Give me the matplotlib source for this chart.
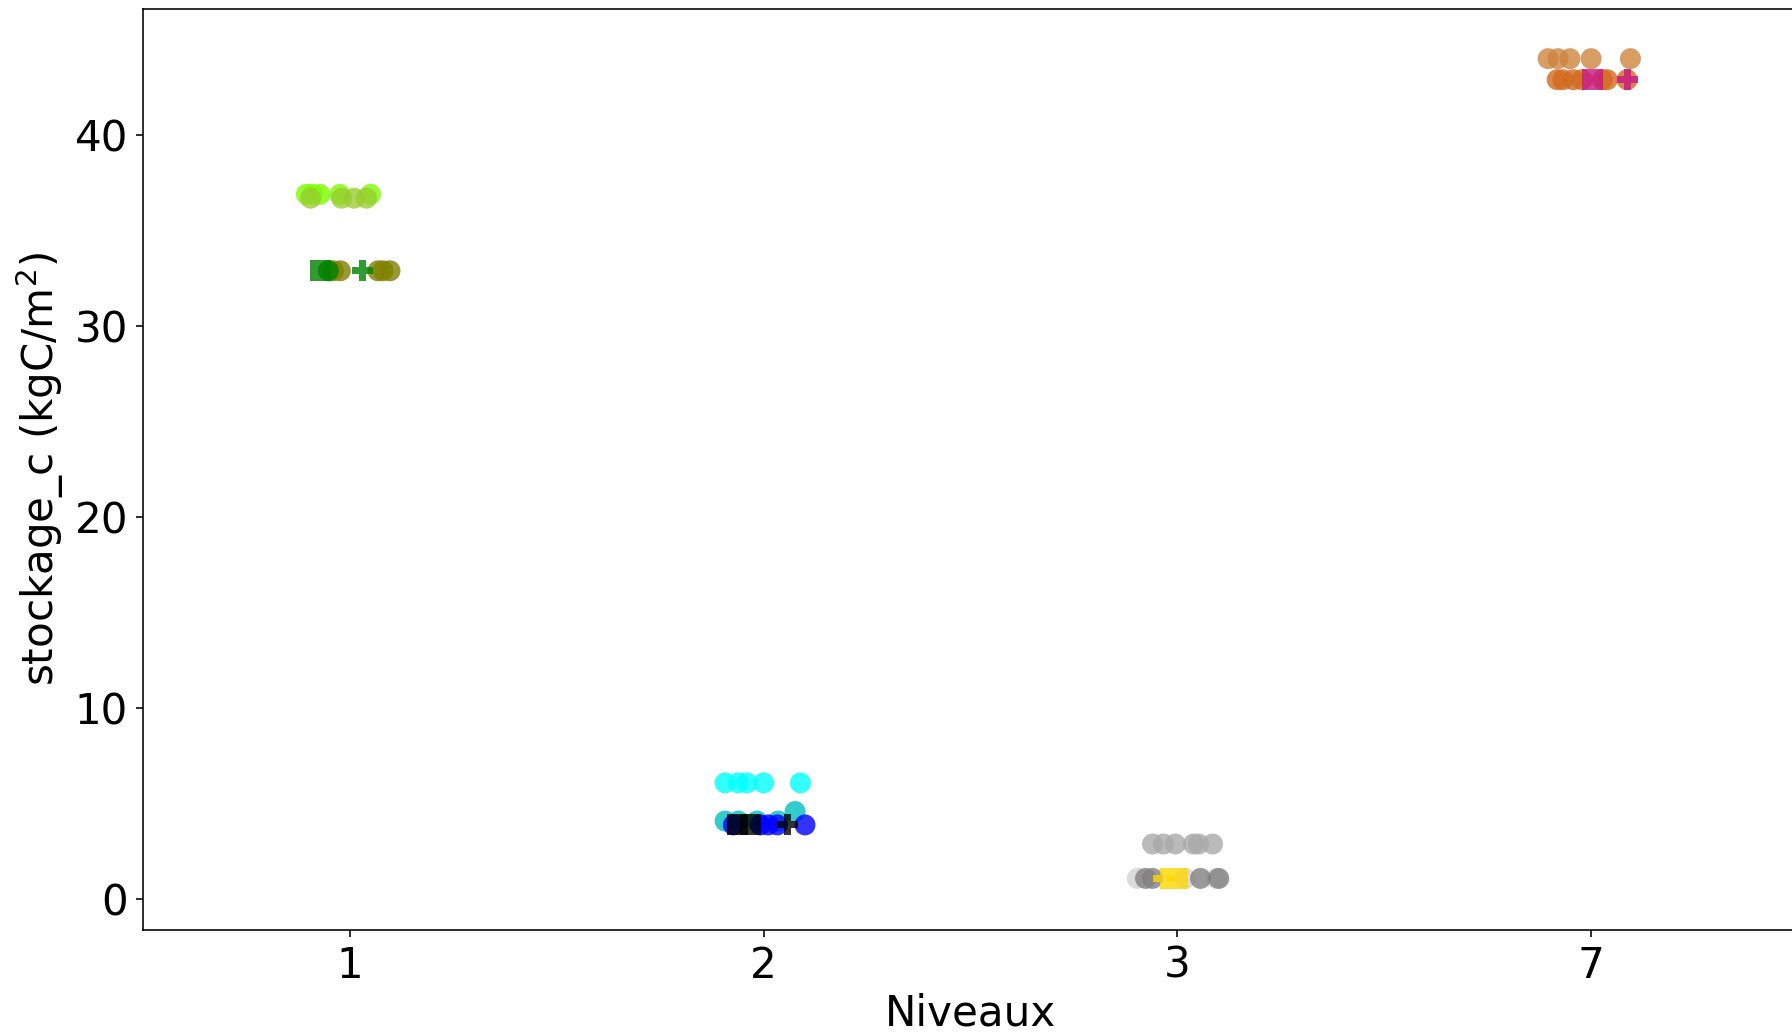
import numpy as np
import matplotlib
matplotlib.use("Agg")
import matplotlib.pyplot as plt

# niveaux sur l'axe x (positions catégorielles 0..3)
niveaux = ["1", "2", "3", "7"]

# niveau 1
n1_haut_a = [36.9, 36.9, 36.9, 36.9, 36.9]
n1_haut_a_jit = [-0.105, -0.09, -0.072, -0.024, 0.05]
n1_haut_b = [36.7, 36.7, 36.7, 36.7]
n1_haut_b_jit = [-0.095, -0.02, 0.01, 0.04]
n1_bas = [32.9, 32.9, 32.9, 32.9, 32.9]
n1_bas_jit = [-0.04, -0.023, 0.068, 0.08, 0.097]
n1_moy = [32.9]
n1_moy_jit = [-0.052]
n1_carre = [32.9]
n1_carre_jit = [-0.072]
n1_plus = [32.9]
n1_plus_jit = [0.03]

# niveau 2
n2_haut = [6.1, 6.1, 6.1, 6.1, 6.1]
n2_haut_jit = [-0.093, -0.061, -0.04, 0.0, 0.089]
n2_mid = [4.1, 4.1, 4.1, 4.1, 4.6]
n2_mid_jit = [-0.093, -0.061, -0.016, 0.035, 0.076]
n2_bas = [3.9, 3.9, 3.9, 3.9, 3.9]
n2_bas_jit = [-0.073, -0.008, 0.011, 0.033, 0.1]
n2_carre = [3.9, 3.9]
n2_carre_jit = [-0.062, -0.032]
n2_plus = [3.9]
n2_plus_jit = [0.057]

# niveau 3
n3_haut = [2.9, 2.9, 2.9, 2.9, 2.9, 2.9]
n3_haut_jit = [-0.06, -0.034, -0.005, 0.039, 0.051, 0.085]
n3_bas_a = [1.1, 1.1, 1.1, 1.1]
n3_bas_a_jit = [-0.077, -0.06, 0.056, 0.1]
n3_bas_b = [1.1, 1.1, 1.1]
n3_bas_b_jit = [-0.097, 0.019, 0.094]
n3_carre = [1.1]
n3_carre_jit = [0.0]
n3_plus = [1.1]
n3_plus_jit = [-0.034]

# niveau 7
n7_haut = [44.0, 44.0, 44.0, 44.0, 44.0]
n7_haut_jit = [-0.104, -0.08, -0.051, 0.0, 0.095]
n7_bas = [42.9, 42.9, 42.9, 42.9, 42.9, 42.9, 42.9]
n7_bas_jit = [-0.082, -0.068, -0.043, -0.022, 0.027, 0.039, 0.087]
n7_carre = [42.9]
n7_carre_jit = [0.003]
n7_plus = [42.9]
n7_plus_jit = [0.087]

# (indice du niveau, valeurs, décalages, couleur, marqueur)
series = [
    (0, n1_haut_a, n1_haut_a_jit, "lawngreen", "o"),
    (0, n1_haut_b, n1_haut_b_jit, "yellowgreen", "o"),
    (0, n1_bas, n1_bas_jit, "olive", "o"),
    (0, n1_moy, n1_moy_jit, "green", "o"),
    (1, n2_haut, n2_haut_jit, "cyan", "o"),
    (1, n2_mid, n2_mid_jit, "c", "o"),
    (1, n2_bas, n2_bas_jit, "blue", "o"),
    (2, n3_haut, n3_haut_jit, "darkgray", "o"),
    (2, n3_bas_b, n3_bas_b_jit, "lightgray", "o"),
    (2, n3_bas_a, n3_bas_a_jit, "gray", "o"),
    (3, n7_haut, n7_haut_jit, "peru", "o"),
    (3, n7_bas, n7_bas_jit, "chocolate", "o"),
    (0, n1_carre, n1_carre_jit, "green", "s"),
    (1, n2_carre, n2_carre_jit, "black", "s"),
    (2, n3_carre, n3_carre_jit, "gold", "s"),
    (3, n7_carre, n7_carre_jit, "mediumvioletred", "s"),
    (0, n1_plus, n1_plus_jit, "green", "P"),
    (1, n2_plus, n2_plus_jit, "black", "P"),
    (2, n3_plus, n3_plus_jit, "gold", "P"),
    (3, n7_plus, n7_plus_jit, "mediumvioletred", "P"),
]

fig = plt.figure(figsize=(1792 / 144, 1032 / 144), dpi=144)
ax = fig.add_axes([143 / 1792, 102 / 1032, 1655 / 1792, 921 / 1032])

for i, (pos, vals, jit, col, mk) in enumerate(series):
    x = pos + np.array(jit)
    ax.scatter(x, vals, s=110, c=col, marker=mk, alpha=0.8,
               edgecolors="none", zorder=2 + i * 0.01)

ax.set_xticks(range(len(niveaux)))
ax.set_xticklabels(niveaux)
ax.set_xlim(-0.5, 3.5)
ax.set_ylim(-1.6, 46.6)
ax.tick_params(labelsize=21, pad=4)
ax.set_xlabel("Niveaux", fontsize=21, labelpad=3)
ax.set_ylabel("stockage_c (kgC/m$^2$)", fontsize=21)

fig.savefig("out.png", dpi=144)
